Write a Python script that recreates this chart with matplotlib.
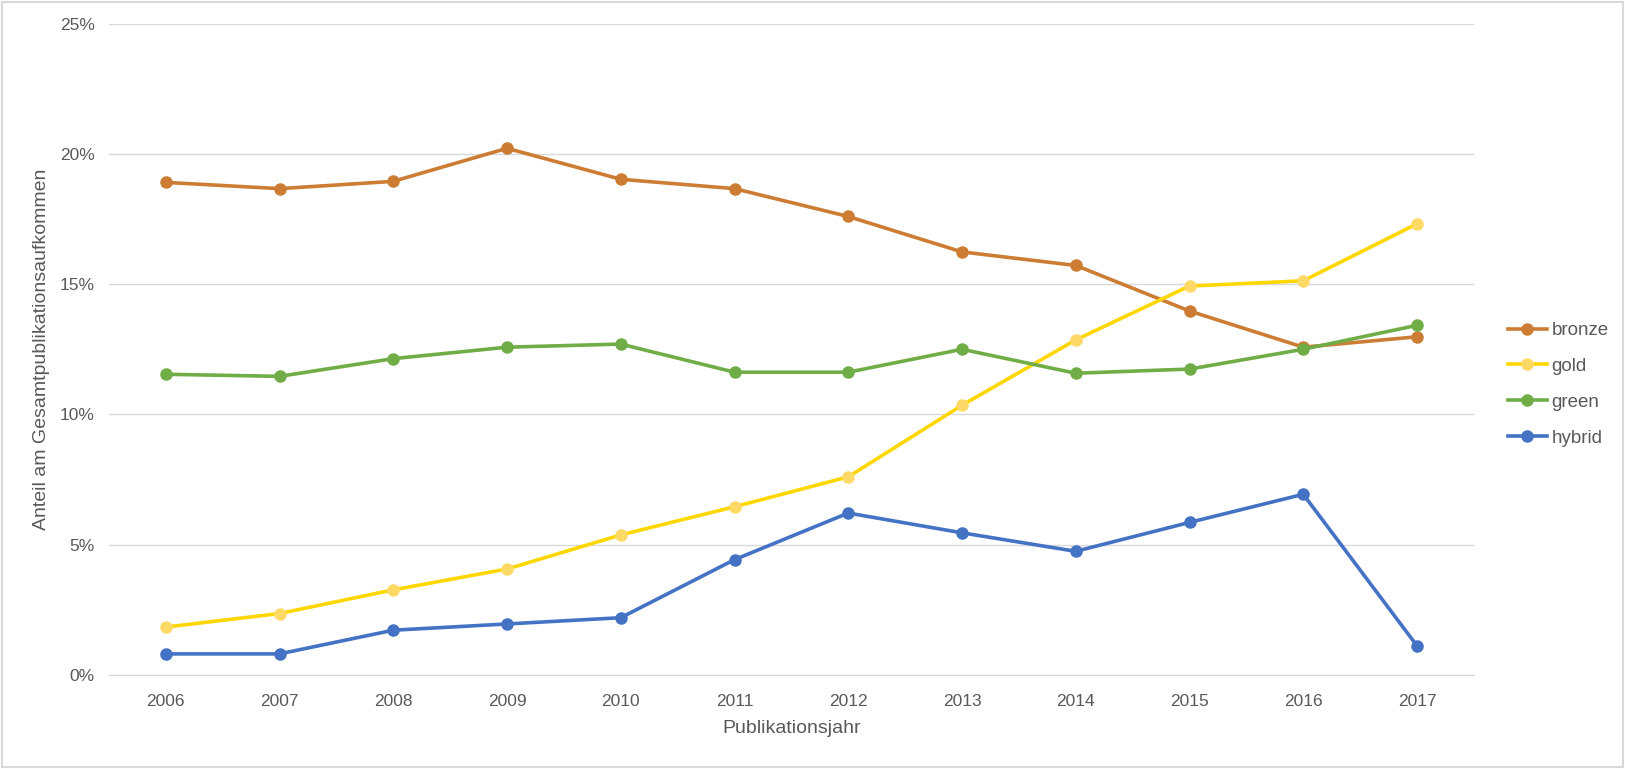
import matplotlib.pyplot as plt
from matplotlib.ticker import FuncFormatter

years = ['2006', '2007', '2008', '2009', '2010', '2011',
         '2012', '2013', '2014', '2015', '2016', '2017']
bronze = [18.91, 18.67, 18.95, 20.22, 19.03, 18.67, 17.60, 16.24, 15.72, 13.97, 12.58, 12.98]
gold = [1.83, 2.35, 3.26, 4.06, 5.37, 6.45, 7.60, 10.35, 12.86, 14.93, 15.13, 17.32]
green = [11.54, 11.46, 12.14, 12.58, 12.70, 11.62, 11.62, 12.50, 11.58, 11.74, 12.50, 13.42]
hybrid = [0.80, 0.80, 1.71, 1.95, 2.19, 4.42, 6.21, 5.45, 4.74, 5.85, 6.93, 1.11]

series = [('bronze', bronze, '#CC7D33', '#CC7D33'),
          ('gold', gold, '#FFD700', '#FFD966'),
          ('green', green, '#70AD47', '#70AD47'),
          ('hybrid', hybrid, '#4472C4', '#4472C4')]

plt.rcParams['font.family'] = ['Liberation Sans', 'DejaVu Sans']
txt = '#595959'

fig = plt.figure(figsize=(16.25, 7.69), dpi=100)
ax = fig.add_axes([0.067, 0.1226, 0.840, 0.8464])

x = list(range(len(years)))
for name, vals, col, mcol in series:
    ax.plot(x, vals, color=col, lw=2.6, marker='o', markersize=8,
            markerfacecolor=mcol, markeredgecolor=mcol, label=name)

ax.set_xlim(-0.5, len(years) - 0.5)
ax.set_ylim(0, 25)
ax.set_yticks([0, 5, 10, 15, 20, 25])
ax.yaxis.set_major_formatter(FuncFormatter(lambda v, p: '%d%%' % v))
ax.set_xticks(x)
ax.set_xticklabels(years)
ax.grid(axis='y', color='#D9D9D9', lw=1)
ax.set_axisbelow(True)
for s in ['top', 'right', 'left']:
    ax.spines[s].set_visible(False)
ax.spines['bottom'].set_color('#D9D9D9')
ax.tick_params(length=0, labelsize=12.5, colors=txt, pad=14)
ax.tick_params(axis='y', pad=10)

ax.set_xlabel('Publikationsjahr', fontsize=14, color=txt, labelpad=8)
ax.set_ylabel('Anteil am Gesamtpublikationsaufkommen', fontsize=14, color=txt, va='center')
ax.yaxis.set_label_coords(-0.0494, 0.5)

leg = ax.legend(loc='center left', bbox_to_anchor=(1.0, 0.446), frameon=False,
                fontsize=13.5, labelcolor=txt, handlelength=2.1, labelspacing=1.0,
                handletextpad=0.25, borderaxespad=1.4)

fig.patches.append(plt.Rectangle((0.001, 0.002), 0.998, 0.996, transform=fig.transFigure,
                                 fill=False, edgecolor='#D9D9D9', lw=1.5))

fig.savefig('out.png', dpi=100)
